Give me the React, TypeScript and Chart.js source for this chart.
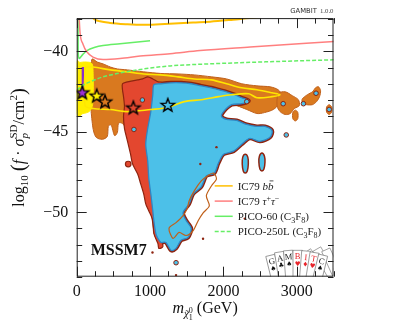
import React, { useEffect, useRef } from 'react';
import { Chart, registerables } from 'chart.js';
Chart.register(...registerables);

// ---------- axes ----------
const X_MIN = 0;
const X_MAX = 3500;
const Y_MIN = -54;
const Y_MAX = -37.93;
const X_TICKS = [0, 1000, 2000, 3000];
const Y_TICKS = [-50, -45, -40];
const X_MINOR = [0, 250, 500, 750, 1000, 1250, 1500, 1750, 2000, 2250, 2500, 2750, 3000, 3250, 3500];
const Y_MINOR = [-54, -53, -52, -51, -50, -49, -48, -47, -46, -45, -44, -43, -42, -41, -40, -39, -38];

// ---------- limit curves [mass GeV, log10 sigma] ----------
const IC79_BB = [[154, -37.6], [250, -38.02], [318, -38.13], [454, -38.23], [682, -38.31], [904, -38.35], [1136, -38.31], [1586, -38.2], [1818, -38.15], [2132, -38.03], [2364, -37.93], [2600, -37.85], [3500, -37.8]];
const IC79_TAU = [[31, -37.7], [45, -38.81], [86, -39.55], [140, -40.04], [222, -40.35], [359, -40.5], [591, -40.44], [864, -40.29], [1273, -40.14], [1682, -39.95], [2364, -39.73], [3510, -39.38]];
const PICO60 = [[18, -37.6], [20, -40.04], [31, -40.44], [86, -40.17], [140, -39.95], [250, -39.74], [359, -39.63], [591, -39.52], [1000, -39.33]];
const PICO250 = [[0, -42.42], [72, -42.14], [181, -41.89], [359, -41.58], [591, -41.34], [823, -41.15], [1273, -40.9], [1682, -40.8], [2500, -40.66], [3510, -40.52]];

// ---------- regions [mass GeV, log10 sigma] ----------
const ORANGE_MAIN = [[211, -40.47], [280, -40.66], [362, -40.78], [459, -40.97], [555, -41.09], [693, -41.15], [913, -41.27], [1147, -41.37], [1381, -41.4], [1602, -41.46], [1836, -41.58], [2043, -41.71], [2249, -42.01], [2456, -42.14], [2635, -42.2], [2745, -42.38], [2800, -42.75], [2760, -43.25], [2680, -43.61], [2560, -43.8], [2456, -43.86], [2318, -43.61], [2180, -43.37], [1974, -43.12], [1698, -42.81], [1147, -43.12], [1010, -44.97], [734, -44.97], [624, -44.48], [569, -44.48], [555, -45.03], [514, -45.22], [472, -44.6], [431, -44.66], [417, -45.28], [348, -45.46], [266, -45.34], [225, -44.85], [197, -43.74], [183, -42.51], [197, -40.97]];
const ORANGE_B1 = [[2745, -42.63], [2842, -42.51], [2938, -42.75], [3021, -43.0], [3034, -43.37], [2966, -43.55], [2911, -43.86], [2842, -43.92], [2772, -43.74], [2731, -43.37]];
const ORANGE_B2 = [[3076, -42.94], [3144, -42.69], [3213, -42.51], [3255, -42.26], [3296, -42.2], [3324, -42.44], [3310, -42.81], [3269, -43.12], [3213, -43.31], [3131, -43.31], [3076, -43.18]];
const ORANGE_B3 = [[2979, -43.65], [3014, -43.8], [3014, -44.17], [2979, -44.32], [2945, -44.17], [2945, -43.8]];
const ORANGE_B4 = [[3441, -43.31], [3475, -43.46], [3475, -43.77], [3441, -43.92], [3406, -43.77], [3406, -43.46]];
const YELLOW_FILL = [[0, -40.78], [45, -40.69], [128, -40.66], [211, -40.78], [225, -41.58], [225, -42.81], [211, -43.43], [169, -43.74], [87, -43.86], [0, -43.86]];
const YELLOW_BAND = [[114, -40.97], [225, -40.97], [459, -41.15], [693, -41.27], [913, -41.4], [1147, -41.46], [1381, -41.58], [1602, -41.71], [1836, -41.77], [2043, -42.01], [2249, -42.26], [2456, -42.38], [2662, -42.57], [2772, -42.69], [2662, -42.81], [2456, -42.88], [2346, -42.63], [2112, -42.69], [1932, -42.81], [1698, -43.0], [1464, -43.12], [1244, -43.49], [1010, -43.61], [693, -43.74], [459, -43.61], [225, -43.55], [114, -43.37], [114, -40.97]];
const PURPLE = [[68, -40.97], [100, -40.97], [100, -42.6], [68, -42.6]];
const RED = [[624, -42.01], [693, -41.89], [762, -41.83], [831, -41.77], [899, -41.71], [968, -41.58], [1037, -41.71], [1106, -41.89], [1175, -42.01], [1147, -43.12], [1120, -44.97], [1092, -46.82], [1106, -49.28], [1147, -51.44], [1175, -52.11], [1120, -52.24], [1106, -51.93], [1051, -51.31], [1037, -50.51], [982, -49.9], [941, -49.47], [913, -48.85], [872, -48.23], [831, -47.62], [762, -47.0], [734, -46.39], [693, -45.59], [651, -44.78], [638, -44.05], [651, -43.43], [638, -42.81], [624, -42.38]];
const BLUE = [[1051, -42.08], [1147, -42.01], [1285, -41.95], [1423, -41.95], [1561, -42.01], [1698, -42.14], [1836, -42.26], [1932, -42.38], [2043, -42.51], [2153, -42.69], [2249, -42.88], [2346, -43.06], [2249, -43.25], [2112, -43.31], [2002, -43.74], [1974, -44.05], [2043, -44.23], [2180, -44.29], [2318, -44.54], [2456, -44.66], [2566, -44.66], [2662, -44.91], [2635, -45.34], [2497, -45.59], [2360, -45.4], [2249, -45.77], [2139, -46.2], [2002, -46.39], [1932, -46.94], [1877, -47.56], [1767, -47.74], [1698, -48.42], [1588, -48.85], [1533, -49.47], [1450, -50.02], [1492, -50.51], [1561, -51.0], [1519, -51.56], [1423, -51.74], [1354, -52.24], [1285, -52.36], [1216, -51.87], [1147, -51.87], [1106, -51.62], [1078, -51.31], [1051, -50.51], [1037, -49.9], [1010, -48.85], [982, -47.86], [968, -46.82], [941, -45.77], [968, -44.78], [1010, -43.74], [1037, -42.69]];
const DRIP_1 = [[2297, -46.39], [2332, -46.57], [2339, -47.0], [2325, -47.43], [2297, -47.56], [2270, -47.43], [2256, -47.0], [2263, -46.57]];
const DRIP_2 = [[2525, -46.32], [2559, -46.51], [2566, -46.88], [2552, -47.31], [2525, -47.43], [2497, -47.31], [2483, -46.88], [2490, -46.51]];
const CONTOUR_SQUIGGLE = [[1533, -49.28], [1602, -48.67], [1698, -48.05], [1781, -47.74], [1863, -47.56], [1905, -47.93], [1836, -48.36], [1767, -48.97], [1808, -49.59], [1726, -50.02], [1657, -50.51], [1588, -51.13], [1492, -51.44], [1395, -51.25], [1313, -51.62], [1258, -51.0], [1354, -50.64], [1450, -50.2], [1506, -49.77]];
const DOTS_BLUE = [[895, -43.02], [780, -44.85], [1354, -53.13], [2318, -43.12], [2814, -43.25], [3090, -43.25], [3441, -43.61], [3262, -42.6], [2856, -45.19]];
const DOTS_RED = [[702, -47.0]];
const DOTS_DARK = [[1033, -52.5], [1722, -51.64], [1354, -53.9], [1685, -47.0], [1905, -45.95], [2291, -50.39]];
const STARS = [[76, -42.55], [273, -42.75], [386, -43.12], [772, -43.49], [1241, -43.33]];
const STAR_COLORS = ['#9b30d0', '#ffee00', '#d9791f', '#e3472f', '#4cc0e8'];

const C_ORANGE = '#d9791f';
const C_ORANGE_EDGE = '#c0601a';
const C_RED = '#e3472f';
const C_BLUE = '#4cc0e8';
const C_BLUE_EDGE = '#2f86c4';
const C_DARKRED = '#8e2410';
const C_YELLOW = '#ffee00';
const C_GOLD = '#ffbf00';
const C_PINK = '#ff7f7f';
const C_GREEN = '#66ee66';
const C_PURPLE = '#8a2fc9';

const SERIF = '"Liberation Serif", "DejaVu Serif", serif';
const SANS = '"DejaVu Sans", "Liberation Sans", sans-serif';

const REGION_LAYERS = [
  { pts: ORANGE_MAIN, fill: C_ORANGE, stroke: C_ORANGE_EDGE, w: 1, closed: true },
  { pts: ORANGE_B1, fill: C_ORANGE, stroke: C_ORANGE_EDGE, w: 1, closed: true },
  { pts: ORANGE_B2, fill: C_ORANGE, stroke: C_ORANGE_EDGE, w: 1, closed: true },
  { pts: ORANGE_B3, fill: C_ORANGE, stroke: C_ORANGE_EDGE, w: 1, closed: true },
  { pts: ORANGE_B4, fill: C_ORANGE, stroke: C_ORANGE_EDGE, w: 1, closed: true },
  { pts: YELLOW_FILL, fill: C_YELLOW, stroke: C_YELLOW, w: 1, closed: true },
  { pts: BLUE, fill: '', stroke: C_DARKRED, w: 4, closed: true },
  { pts: RED, fill: C_RED, stroke: C_DARKRED, w: 1.2, closed: true },
  { pts: BLUE, fill: C_BLUE, stroke: C_BLUE_EDGE, w: 1.3, closed: true },
  { pts: CONTOUR_SQUIGGLE, fill: '', stroke: C_ORANGE_EDGE, w: 1.2, closed: true },
  { pts: DRIP_1, fill: C_BLUE, stroke: C_DARKRED, w: 1.5, closed: true },
  { pts: DRIP_2, fill: C_BLUE, stroke: C_DARKRED, w: 1.5, closed: true },
  { pts: PURPLE, fill: C_PURPLE, stroke: '', w: 0, closed: true, sharp: true },
];

type Part = { t: string; s: number; it?: boolean; b?: boolean; dy?: number; fam?: string; bar?: boolean; tilde?: boolean; sup?: Part; sub?: Part };

function fontOf(p: Part) {
  return `${p.it ? 'italic ' : ''}${p.b ? 'bold ' : ''}${p.s}px ${p.fam || SERIF}`;
}
function partW(ctx: CanvasRenderingContext2D, p: Part) {
  if (p.sup || p.sub) {
    let w = 0;
    for (const q of [p.sup, p.sub]) {
      if (q) { ctx.font = fontOf(q); w = Math.max(w, ctx.measureText(q.t).width); }
    }
    return w;
  }
  ctx.font = fontOf(p);
  return ctx.measureText(p.t).width;
}
function drawParts(ctx: CanvasRenderingContext2D, parts: Part[], x: number, y: number, align: string, color = '#000') {
  const ws = parts.map((p) => partW(ctx, p));
  const tot = ws.reduce((a, b) => a + b, 0);
  let cx = align === 'center' ? x - tot / 2 : align === 'right' ? x - tot : x;
  ctx.fillStyle = color;
  ctx.strokeStyle = color;
  ctx.textAlign = 'left';
  ctx.textBaseline = 'alphabetic';
  parts.forEach((p, i) => {
    if (p.sup || p.sub) {
      for (const q of [p.sup, p.sub]) {
        if (q) { ctx.font = fontOf(q); ctx.fillText(q.t, cx, y + (q.dy || 0)); }
      }
    } else {
      ctx.font = fontOf(p);
      ctx.fillText(p.t, cx, y + (p.dy || 0));
      if (p.bar) {
        ctx.lineWidth = 0.8;
        ctx.beginPath();
        ctx.moveTo(cx + ws[i] * 0.3, y + (p.dy || 0) - p.s * 0.8);
        ctx.lineTo(cx + ws[i] * 1.0, y + (p.dy || 0) - p.s * 0.8);
        ctx.stroke();
      }
      if (p.tilde) {
        ctx.font = `${p.s}px ${SERIF}`;
        ctx.textAlign = 'center';
        ctx.fillText('\u02DC', cx + ws[i] / 2 + 1, y + (p.dy || 0) + p.s * 0.08);
        ctx.textAlign = 'left';
      }
    }
    cx += ws[i];
  });
}

const Y_TITLE: Part[] = [
  { t: 'log', s: 16 }, { t: '10', s: 11, dy: 4 }, { t: ' ', s: 16 }, { t: '(', s: 21, dy: 1 },
  { t: 'f', s: 16, it: true }, { t: ' \u00B7 ', s: 16 }, { t: '\u03C3', s: 16, it: true },
  { t: '', s: 0, sup: { t: 'SD', s: 11, dy: -7 }, sub: { t: 'p', s: 11, it: true, dy: 4 } },
  { t: '/cm', s: 16 }, { t: '2', s: 11, dy: -7 }, { t: ')', s: 21, dy: 1 },
];
const X_TITLE: Part[] = [
  { t: 'm', s: 16, it: true }, { t: '\u03C7', s: 11, it: true, dy: 4, tilde: true },
  { t: '', s: 0, sup: { t: '0', s: 8, dy: 0 }, sub: { t: '1', s: 8, dy: 7 } },
  { t: ' (GeV)', s: 16 },
];
const LEGEND_ITEMS = [
  { color: C_GOLD, dash: [] as number[], parts: [{ t: 'IC79 ', s: 11 }, { t: 'b', s: 11, it: true }, { t: 'b', s: 11, it: true, bar: true }] as Part[] },
  { color: C_PINK, dash: [] as number[], parts: [{ t: 'IC79 ', s: 11 }, { t: '\u03C4', s: 11, it: true }, { t: '+', s: 8, dy: -4 }, { t: '\u03C4', s: 11, it: true }, { t: '\u2212', s: 8, dy: -4 }] as Part[] },
  { color: C_GREEN, dash: [] as number[], parts: [{ t: 'PICO-60 (C', s: 11 }, { t: '3', s: 8, dy: 2.5 }, { t: 'F', s: 11 }, { t: '8', s: 8, dy: 2.5 }, { t: ')', s: 11 }] as Part[] },
  { color: C_GREEN, dash: [4, 2], parts: [{ t: 'PICO-250L (C', s: 11 }, { t: '3', s: 8, dy: 2.5 }, { t: 'F', s: 11 }, { t: '8', s: 8, dy: 2.5 }, { t: ')', s: 11 }] as Part[] },
];

function makeStar(fill: string) {
  const c = document.createElement('canvas');
  c.width = 18; c.height = 18;
  const g = c.getContext('2d')!;
  g.beginPath();
  for (let i = 0; i < 10; i++) {
    const r = i % 2 ? 2.9 : 7;
    const a = -Math.PI / 2 + (i * Math.PI) / 5;
    const px = 9 + r * Math.cos(a);
    const py = 9.5 + r * Math.sin(a);
    if (i === 0) g.moveTo(px, py); else g.lineTo(px, py);
  }
  g.closePath();
  g.fillStyle = fill;
  g.fill();
  g.lineWidth = 1.4;
  g.strokeStyle = '#000';
  g.stroke();
  return c;
}

function tracePath(ctx: CanvasRenderingContext2D, P: number[][], closed: boolean, sharp: boolean) {
  const n = P.length;
  ctx.moveTo(P[0][0], P[0][1]);
  if (sharp) {
    for (let i = 1; i < n; i++) ctx.lineTo(P[i][0], P[i][1]);
    if (closed) ctx.closePath();
    return;
  }
  const s = 0.14;
  const last = closed ? n : n - 1;
  for (let i = 0; i < last; i++) {
    const p0 = P[closed ? (i - 1 + n) % n : Math.max(i - 1, 0)];
    const p1 = P[i];
    const p2 = P[(i + 1) % n];
    const p3 = P[closed ? (i + 2) % n : Math.min(i + 2, n - 1)];
    ctx.bezierCurveTo(
      p1[0] + (p2[0] - p0[0]) * s, p1[1] + (p2[1] - p0[1]) * s,
      p2[0] - (p3[0] - p1[0]) * s, p2[1] - (p3[1] - p1[1]) * s,
      p2[0], p2[1],
    );
  }
  if (closed) ctx.closePath();
}

const regionsPlugin = {
  id: 'regions',
  beforeDatasetsDraw(chart: any) {
    const ctx: CanvasRenderingContext2D = chart.ctx;
    const a = chart.chartArea;
    const xs = chart.scales.x, ys = chart.scales.y;
    ctx.save();
    ctx.beginPath();
    ctx.rect(a.left, a.top, a.right - a.left, a.bottom - a.top);
    ctx.clip();
    for (const L of REGION_LAYERS) {
      const P = L.pts.map(([x, y]) => [xs.getPixelForValue(x), ys.getPixelForValue(y)]);
      ctx.beginPath();
      tracePath(ctx, P, L.closed, !!(L as any).sharp);
      if (L.fill) { ctx.fillStyle = L.fill; ctx.fill(); }
      if (L.stroke && L.w) { ctx.strokeStyle = L.stroke; ctx.lineWidth = L.w; ctx.lineJoin = 'round'; ctx.stroke(); }
    }
    ctx.restore();
  },
};

function drawCards(ctx: CanvasRenderingContext2D, a: any) {
  ctx.save();
  ctx.beginPath();
  ctx.rect(a.left, a.top, a.right - a.left, a.bottom - a.top);
  ctx.clip();
  const bx = a.right, by = a.bottom;
  const back = [[-24, -26, 0.95], [-14, -28, 1.05], [-5, -27, 1.15]];
  for (const [dx, dy, ang] of back) {
    ctx.save();
    ctx.translate(bx + dx, by + dy);
    ctx.rotate(ang);
    ctx.fillStyle = '#fff';
    ctx.strokeStyle = '#777';
    ctx.lineWidth = 0.6;
    ctx.fillRect(-1, -2, 40, 9);
    ctx.strokeRect(-1, -2, 40, 9);
    ctx.restore();
  }
  const L = ['G', 'A', 'M', 'B', 'I', 'T', 'C'];
  const S = ['\u2660', '\u2663', '\u2660', '\u2665', '\u2666', '\u2665', '\u2660'];
  const R = [false, false, false, true, true, true, false];
  const off = [[-61.7, -15], [-53.4, -18.2], [-44.9, -19.7], [-35.9, -20], [-27.7, -19.2], [-19.9, -17.7], [-11.9, -15.2]];
  for (let i = 0; i < 7; i++) {
    ctx.save();
    ctx.translate(bx + off[i][0], by + off[i][1]);
    ctx.rotate((i - 3) * 0.08);
    ctx.fillStyle = '#fff';
    ctx.strokeStyle = '#666';
    ctx.lineWidth = 0.6;
    ctx.fillRect(-4.6, -6.5, 9.2, 32);
    ctx.strokeRect(-4.6, -6.5, 9.2, 32);
    ctx.fillStyle = R[i] ? '#e8242a' : '#111';
    ctx.textAlign = 'center';
    ctx.textBaseline = 'alphabetic';
    ctx.font = `8.5px ${SERIF}`;
    ctx.fillText(L[i], 0, 2.5);
    ctx.font = `6.5px ${SANS}`;
    ctx.fillText(S[i], 0, 9);
    ctx.restore();
  }
  ctx.restore();
}

const overlay = {
  id: 'overlay',
  afterDatasetsDraw(chart: any) {
    const ctx: CanvasRenderingContext2D = chart.ctx;
    const a = chart.chartArea;
    const xs = chart.scales.x, ys = chart.scales.y;
    ctx.save();
    LEGEND_ITEMS.forEach((it, i) => {
      const yy = a.top + 167.8 + i * 15.2;
      ctx.save();
      ctx.strokeStyle = it.color;
      ctx.lineWidth = 1.5;
      ctx.setLineDash(it.dash);
      ctx.beginPath();
      ctx.moveTo(a.left + 138, yy);
      ctx.lineTo(a.left + 156, yy);
      ctx.stroke();
      ctx.restore();
      drawParts(ctx, it.parts, a.left + 161, yy + 3.8, 'left', '#222');
    });
    drawParts(ctx, [{ t: 'MSSM7', s: 16, b: true }], a.left + 14, a.top + 236.5, 'left', '#111');
    drawCards(ctx, a);
    ctx.strokeStyle = '#222';
    ctx.lineWidth = 1;
    ctx.strokeRect(a.left + 0.5, a.top + 0.5, a.right - a.left - 1, a.bottom - a.top - 1);
    ctx.beginPath();
    for (const v of X_MINOR) {
      const p = Math.round(xs.getPixelForValue(v)) + 0.5;
      const len = v % 1000 === 0 ? 10 : 5.5;
      ctx.moveTo(p, a.bottom); ctx.lineTo(p, a.bottom - len);
      ctx.moveTo(p, a.top); ctx.lineTo(p, a.top + len);
    }
    for (const v of Y_MINOR) {
      const p = Math.round(ys.getPixelForValue(v)) + 0.5;
      const len = v % 5 === 0 ? 10 : 5.5;
      ctx.moveTo(a.left, p); ctx.lineTo(a.left + len, p);
      ctx.moveTo(a.right, p); ctx.lineTo(a.right - len, p);
    }
    ctx.stroke();
    ctx.save();
    ctx.translate(24, (a.top + a.bottom) / 2);
    ctx.rotate(-Math.PI / 2);
    drawParts(ctx, Y_TITLE, 0, 0, 'center', '#111');
    ctx.restore();
    drawParts(ctx, X_TITLE, (a.left + a.right) / 2, 313, 'center', '#111');
    ctx.font = `6.8px ${SERIF}`;
    const w2 = ctx.measureText('1.0.0').width;
    drawParts(ctx, [{ t: '1.0.0', s: 6.8 }], a.right, 13, 'right', '#444');
    drawParts(ctx, [{ t: 'GAMBIT', s: 6.8, fam: SANS }], a.right - w2 - 3, 13, 'right', '#333');
    ctx.restore();
  },
};

const pts = (arr: number[][]) => arr.map(([x, y]) => ({ x, y }));

export default function App() {
  const ref = useRef<HTMLCanvasElement>(null);
  useEffect(() => {
    document.body.style.margin = '0';
    const canvas = ref.current!;
    const curve = (arr: number[][], color: string, bw: number, dash: number[] = [], mono = true) => ({
      data: pts(arr),
      fill: false,
      borderColor: color,
      backgroundColor: color,
      borderWidth: bw,
      borderDash: dash,
      pointRadius: 0,
      tension: mono ? 0 : 0.3,
      cubicInterpolationMode: mono ? 'monotone' : 'default',
      showLine: true,
    });
    const dots = (arr: number[][], fill: string, border: string, r: number, bw: number) => ({
      data: pts(arr),
      showLine: false,
      pointRadius: r,
      pointBackgroundColor: fill,
      pointBorderColor: border,
      pointBorderWidth: bw,
      fill: false,
    });
    const starImgs = STAR_COLORS.map(makeStar);
    const layers: any[] = [
      dots(DOTS_BLUE, C_BLUE, C_DARKRED, 2.3, 1),
      dots(DOTS_RED, C_RED, C_DARKRED, 2.8, 1.2),
      dots(DOTS_DARK, C_DARKRED, C_DARKRED, 1.2, 0),
      curve(YELLOW_BAND, '#ffe600', 1.6, [], false),
      curve(PICO250, C_GREEN, 1.5, [4, 2]),
      curve(PICO60, C_GREEN, 1.5),
      curve(IC79_TAU, C_PINK, 1.5),
      curve(IC79_BB, C_GOLD, 2),
      {
        data: pts(STARS),
        showLine: false,
        pointStyle: (c: any) => starImgs[c.dataIndex],
        pointRadius: 7,
        fill: false,
      },
    ];
    const N = layers.length;
    layers.forEach((l, i) => { l.order = N - i; });

    const chart = new Chart(canvas, {
      type: 'line',
      data: { datasets: layers },
      options: {
        animation: false,
        responsive: false,
        devicePixelRatio: 1,
        events: [],
        layout: { padding: { left: 0, top: 15.5, right: 73.5, bottom: 0 } },
        plugins: { legend: { display: false }, tooltip: { enabled: false } },
        scales: {
          x: {
            type: 'linear',
            min: X_MIN,
            max: X_MAX,
            grid: { display: false, drawTicks: false },
            border: { display: false },
            afterFit: (s: any) => { s.height = 54.3; },
            afterBuildTicks: (s: any) => { s.ticks = X_TICKS.map((v) => ({ value: v })); },
            ticks: {
              padding: 5,
              color: '#111',
              font: { family: SERIF, size: 16 },
              callback: (v: any) => String(v),
            },
          },
          y: {
            type: 'linear',
            min: Y_MIN,
            max: Y_MAX,
            grid: { display: false, drawTicks: false },
            border: { display: false },
            afterFit: (s: any) => { s.width = 76.7; },
            afterBuildTicks: (s: any) => { s.ticks = Y_TICKS.map((v) => ({ value: v })); },
            ticks: {
              padding: 8.5,
              color: '#111',
              font: { family: SERIF, size: 16 },
              callback: (v: any) => (v < 0 ? '\u2212' + Math.abs(v) : String(v)),
            },
          },
        },
      } as any,
      plugins: [regionsPlugin, overlay],
    });
    return () => chart.destroy();
  }, []);
  return (
    <div style={{ width: 407, height: 331 }}>
      <canvas ref={ref} width={407} height={331} style={{ display: 'block', width: 407, height: 331 }} />
    </div>
  );
}
